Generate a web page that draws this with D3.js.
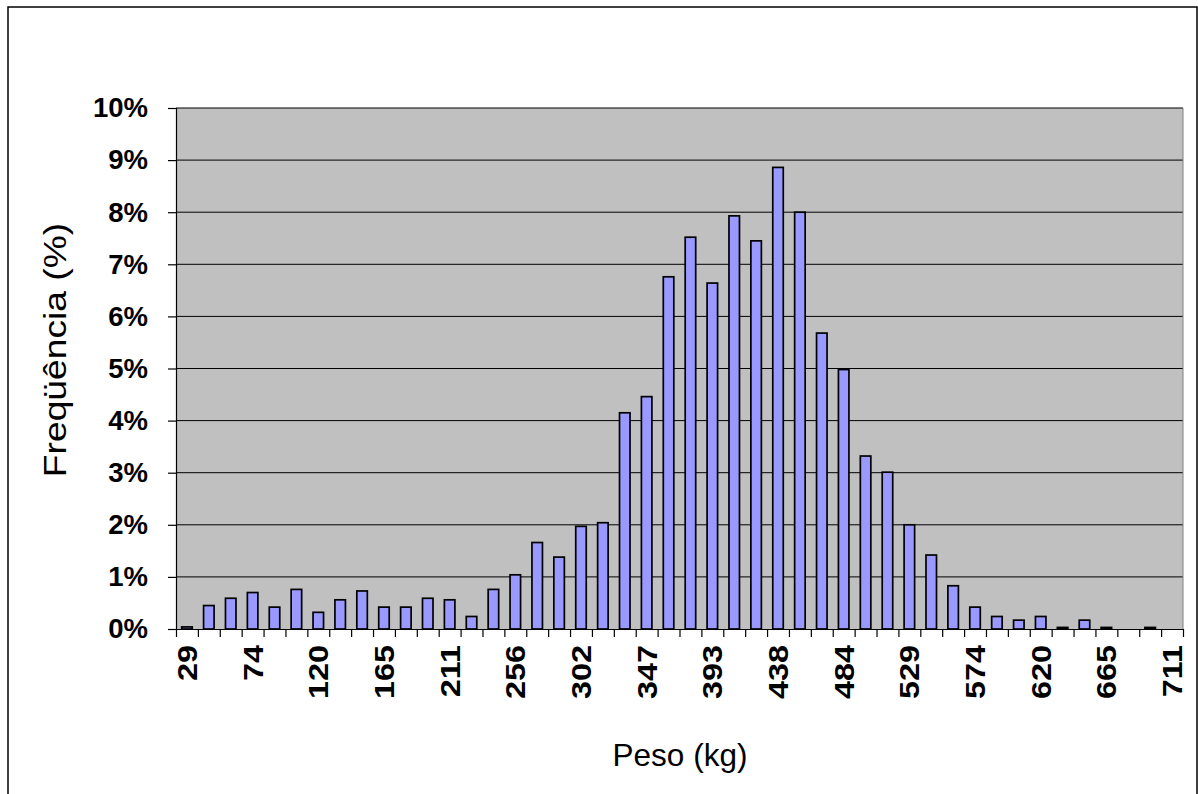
<!DOCTYPE html>
<html>
<head>
<meta charset="utf-8">
<script src="https://cdn.jsdelivr.net/npm/d3@7"></script>
<style>
  html, body { margin: 0; padding: 0; background: #ffffff; }
  svg { display: block; }
  .tick text { font-family: "Liberation Sans", Arial, sans-serif; font-weight: bold; fill: #000; }
</style>
</head>
<body>
<svg id="chart" width="1198" height="794"></svg>
<script>
// Weight classes (kg), one per bar
const categories = [29, 44, 59, 74, 90, 105, 120, 135, 150, 165, 181, 196, 211, 226, 241,
  256, 271, 287, 302, 317, 332, 347, 362, 378, 393, 408, 423, 438, 453, 469, 484, 499,
  514, 529, 544, 559, 574, 590, 605, 620, 635, 650, 665, 681, 696, 711];

// Relative frequency of each class (%)
const frequency = [0.04, 0.45, 0.59, 0.70, 0.42, 0.76, 0.32, 0.56, 0.73, 0.42, 0.42, 0.59,
  0.56, 0.24, 0.76, 1.04, 1.66, 1.38, 1.97, 2.04, 4.15, 4.46, 6.76, 7.52, 6.64, 7.93, 7.45,
  8.86, 8.00, 5.68, 4.98, 3.32, 3.01, 2.00, 1.42, 0.83, 0.42, 0.24, 0.17, 0.24, 0.03, 0.17,
  0.03, 0, 0.03, 0];

// Labelled classes on the x axis
const xTickLabels = [29, 74, 120, 165, 211, 256, 302, 347, 393, 438, 484, 529, 574, 620, 665, 711];

// Y axis ticks (fractions)
const yTicks = [0, 0.01, 0.02, 0.03, 0.04, 0.05, 0.06, 0.07, 0.08, 0.09, 0.10];

const svg = d3.select("#chart");
const plot = { left: 176, top: 108, right: 1183, bottom: 629 };

// Outer chart frame
svg.append("rect")
  .attr("x", 8).attr("y", 7)
  .attr("width", 1189).attr("height", 800)
  .attr("fill", "#ffffff")
  .attr("stroke", "#000").attr("stroke-width", 1.5);

// Plot background
svg.append("rect")
  .attr("x", plot.left).attr("y", plot.top)
  .attr("width", plot.right - plot.left).attr("height", plot.bottom - plot.top)
  .attr("fill", "#c0c0c0");

const gap = 0.52;
const x = d3.scaleBand()
  .domain(categories)
  .range([plot.left, plot.right])
  .paddingInner(gap)
  .paddingOuter(gap / 2);

const y = d3.scaleLinear()
  .domain([0, 0.10])
  .range([plot.bottom, plot.top]);

// Horizontal gridlines
svg.append("g")
  .selectAll("line")
  .data(yTicks.slice(1))
  .join("line")
  .attr("x1", plot.left).attr("x2", plot.right)
  .attr("y1", d => y(d)).attr("y2", d => y(d))
  .attr("stroke", "#000").attr("stroke-width", 1);

// Plot right edge
svg.append("line")
  .attr("x1", plot.right).attr("x2", plot.right)
  .attr("y1", plot.top).attr("y2", plot.bottom)
  .attr("stroke", "#808080").attr("stroke-width", 1);

// Bars
svg.append("g")
  .selectAll("rect")
  .data(categories.map((c, i) => ({ c, v: frequency[i] / 100 })))
  .join("rect")
  .attr("x", d => x(d.c))
  .attr("width", x.bandwidth())
  .attr("y", d => y(d.v))
  .attr("height", d => y(0) - y(d.v))
  .attr("fill", "#9999ff")
  .attr("stroke", "#000")
  .attr("stroke-width", 1.7);

// Y axis
const yAxis = svg.append("g")
  .attr("transform", `translate(${plot.left},0)`)
  .call(d3.axisLeft(y)
    .tickValues(yTicks)
    .tickFormat(d3.format(".0%"))
    .tickSize(8)
    .tickPadding(20));
yAxis.selectAll("path, line").attr("stroke", "#000").attr("stroke-width", 1.2);
yAxis.selectAll("text").style("font-size", "27.5px");

// X axis: tick marks at class boundaries
const xb = d3.scaleLinear().domain([0, categories.length]).range([plot.left, plot.right]);
const xTickAxis = svg.append("g")
  .attr("transform", `translate(0,${plot.bottom})`)
  .call(d3.axisBottom(xb)
    .tickValues(d3.range(categories.length + 1))
    .tickFormat("")
    .tickSize(8)
    .tickSizeOuter(0));
xTickAxis.selectAll("path, line").attr("stroke", "#000").attr("stroke-width", 1.2);

// X axis: class labels, vertical text drawn slightly elongated
const xLabelAxis = svg.append("g")
  .attr("transform", `translate(0,${plot.bottom})`)
  .call(d3.axisBottom(x)
    .tickValues(xTickLabels)
    .tickSize(0)
    .tickPadding(0));
xLabelAxis.select(".domain").remove();
xLabelAxis.selectAll("text")
  .style("font-size", "27px")
  .attr("text-anchor", "end")
  .attr("dy", null)
  .attr("y", 0)
  .attr("transform", "translate(10,16) rotate(-90) scale(1.2,1)");

// Axis titles
svg.append("text")
  .attr("x", 680)
  .attr("y", 766)
  .attr("text-anchor", "middle")
  .style("font-family", "'Liberation Sans', Arial, sans-serif")
  .style("font-size", "31.5px")
  .text("Peso (kg)");

svg.append("text")
  .attr("transform", `translate(66,350) rotate(-90) scale(1.2,1)`)
  .attr("text-anchor", "middle")
  .style("font-family", "'Liberation Sans', Arial, sans-serif")
  .style("font-size", "31px")
  .text("Freqüência (%)");
</script>
</body>
</html>
